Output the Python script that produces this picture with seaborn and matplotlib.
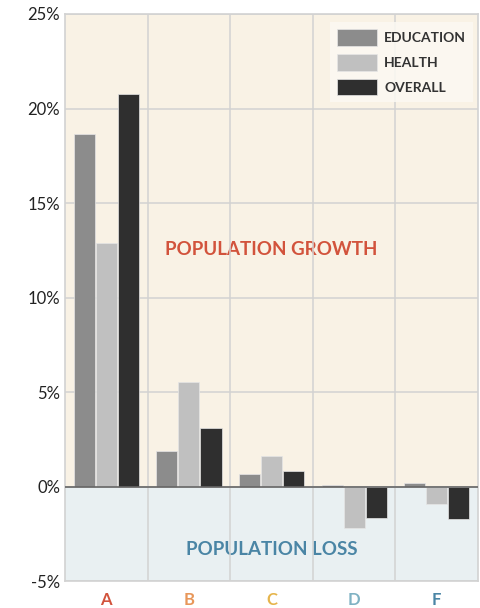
import pandas as pd
import numpy as np
import matplotlib.pyplot as plt
import seaborn as sns
from matplotlib.ticker import FixedLocator

grades = ['A', 'B', 'C', 'D', 'F']
education = [18.65, 1.9, 0.65, 0.1, 0.2]
health = [12.9, 5.55, 1.6, -2.2, -0.9]
overall = [20.75, 3.1, 0.85, -1.65, -1.7]
measures = ['EDUCATION', 'HEALTH', 'OVERALL']
grade_colors = ['#d2533c', '#e8975a', '#e6b54c', '#7fb2c3', '#4a85a5']
bar_colors = ['#8c8c8c', '#c0c0c0', '#2f2f2f']

df = pd.DataFrame({
    'grade': grades * 3,
    'measure': np.repeat(measures, len(grades)),
    'value': education + health + overall,
})

sns.set_style('white')
plt.rcParams['font.family'] = ['Lato', 'DejaVu Sans']

fig = plt.figure(figsize=(4.81, 6.08), dpi=100)
ax = fig.add_axes([0.135, 0.044, 0.859, 0.933])

# growth / loss background bands
ax.axhspan(0, 25, color='#f9f2e5', zorder=0)
ax.axhspan(-5, 0, color='#e9f0f2', zorder=0)

# labels sit under the grid lines like in the original
ax.text(2, 12.55, 'POPULATION GROWTH', ha='center', va='center', fontsize=13.5,
        fontweight='bold', color='#d2533c', zorder=0.5)
ax.text(2, -3.3, 'POPULATION LOSS', ha='center', va='center', fontsize=13.5,
        fontweight='bold', color='#4a85a5', zorder=0.5)

sns.barplot(data=df, x='grade', y='value', hue='measure', palette=bar_colors,
            width=0.8, gap=0.04, ax=ax, zorder=3, edgecolor='#e6e6e6', linewidth=0.5)

ax.set_xlim(-0.5, 4.5)
ax.set_ylim(-5, 25)
ax.set_yticks(range(-5, 26, 5))
ax.set_yticklabels([f'{v}%' for v in range(-5, 26, 5)], fontsize=12, color='#222222')
ax.xaxis.set_minor_locator(FixedLocator([0.5, 1.5, 2.5, 3.5]))
ax.grid(axis='y', which='major', color='#d2d2d2', linewidth=1.1, zorder=1)
ax.grid(axis='x', which='minor', color='#d2d2d2', linewidth=1.1, zorder=1)
ax.axhline(0, color='#666666', linewidth=1.2, zorder=4)
ax.tick_params(axis='both', which='both', length=0)
ax.tick_params(axis='x', pad=8)
for lab, c in zip(ax.get_xticklabels(), grade_colors):
    lab.set_color(c)
    lab.set_fontsize(12)
    lab.set_fontweight('bold')
ax.set_xlabel('')
ax.set_ylabel('')
for s in ax.spines.values():
    s.set_color('#d2d2d2')
    s.set_linewidth(1.2)

leg = ax.legend(loc='upper right', bbox_to_anchor=(1.0, 0.994), frameon=True,
                fancybox=False, fontsize=10, handlelength=2.9, handleheight=1.45,
                handletextpad=0.5, borderpad=0.5, labelspacing=0.6, borderaxespad=0.35)
leg.get_frame().set_facecolor('#fcf9f3')
leg.get_frame().set_edgecolor('none')
leg.get_frame().set_alpha(0.85)
leg.set_zorder(6)
for t in leg.get_texts():
    t.set_color('#333333')
    t.set_fontweight('bold')

fig.savefig('out.png', dpi=100)
